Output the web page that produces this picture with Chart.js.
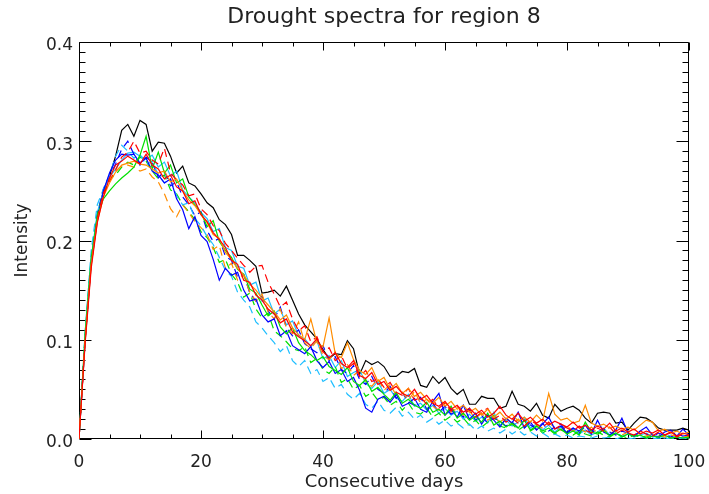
<!DOCTYPE html>
<html>
<head>
<meta charset="utf-8">
<script src="https://cdn.jsdelivr.net/npm/chart.js@4.4.1/dist/chart.umd.min.js"></script>
<style>
html,body{margin:0;padding:0;background:#fff;}
#wrap{width:709px;height:494px;}
</style>
</head>
<body>
<div id="wrap"><canvas id="c" width="709" height="494"></canvas></div>
<script>
const titleText = "Drought spectra for region 8";
const xTitle = "Consecutive days";
const yTitle = "Intensity";
const xTickValues = [0, 20, 40, 60, 80, 100];
const yTickValues = [0.0, 0.1, 0.2, 0.3, 0.4];
const days = Array.from({length: 101}, (_, i) => i);

const blackSolid = [0,.100,.180,.225,.250,.265,.285,.311,.317,.305,.321,.317,.290,.299,.298,.285,.268,.275,.258,.255,.247,.238,.233,.221,.216,.206,.185,.185,.180,.174,.147,.148,.150,.144,.154,.140,.126,.115,.108,.101,.090,.081,.086,.085,.099,.091,.065,.079,.075,.078,.073,.063,.063,.068,.067,.071,.054,.052,.063,.056,.062,.051,.045,.050,.035,.035,.043,.041,.041,.031,.033,.048,.035,.033,.028,.036,.024,.021,.035,.028,.031,.033,.029,.021,.016,.026,.027,.026,.016,.017,.009,.016,.022,.021,.017,.011,.009,.009,.009,.011,.009];

const blueSolid = [0,.098,.176,.220,.250,.268,.281,.287,.286,.287,.278,.283,.270,.266,.258,.262,.242,.231,.212,.224,.205,.199,.181,.160,.172,.165,.168,.150,.139,.141,.125,.118,.121,.104,.109,.094,.090,.086,.093,.079,.072,.078,.066,.070,.058,.062,.049,.031,.027,.040,.043,.037,.045,.033,.036,.041,.030,.027,.038,.046,.024,.030,.022,.034,.020,.026,.015,.024,.019,.012,.021,.016,.027,.011,.017,.009,.015,.022,.010,.013,.006,.011,.008,.014,.005,.019,.007,.004,.009,.021,.006,.003,.008,.012,.004,.002,.007,.009,.003,.010,.004];

const blueDashed = [0,.102,.180,.226,.252,.265,.277,.292,.300,.287,.276,
  .284,.279,.263,.270,.255,.259,.244,.236,.225,.229,
  .210,.199,.202,.184,.180,.163,.166,.147,.139,.144,
  .129,.121,.133,.112,.104,.110,.096,.091,.087,.094,
  .079,.083,.070,.066,.074,.060,.055,.063,.050,.046,
  .053,.041,.047,.037,.034,.042,.030,.036,.027,.033,
  .025,.029,.022,.031,.019,.024,.016,.021,.018,.013,
  .017,.011,.019,.014,.010,.016,.008,.012,.015,.007,
  .011,.006,.013,.009,.005,.010,.007,.004,.008,.006,
  .003,.007,.005,.002,.006,.004,.002,.005,.003,.004];

const redSolid = [0,.096,.172,.218,.244,.263,.276,.280,.285,.281,.277,.287,.276,.272,.262,.266,.254,.250,.237,.240,.226,.219,.208,.201,.193,.180,.176,.160,.158,.145,.140,.131,.126,.117,.121,.108,.103,.099,.094,.101,.088,.082,.087,.076,.072,.079,.064,.061,.067,.055,.058,.049,.053,.046,.043,.050,.040,.044,.036,.033,.038,.030,.034,.027,.031,.025,.029,.022,.026,.033,.024,.020,.026,.018,.022,.016,.020,.014,.018,.015,.012,.017,.011,.014,.009,.013,.010,.016,.008,.011,.007,.010,.005,.008,.006,.009,.004,.007,.003,.006,.004];

const redDashed = [0,.100,.176,.222,.248,.259,.271,.284,.289,.300,.288,
  .290,.281,.277,.293,.268,.261,.256,.245,.247,.232,
  .226,.215,.210,.197,.190,.182,.175,.168,.174,.175,
  .158,.146,.133,.138,.121,.109,.114,.098,.103,.088,
  .092,.079,.084,.071,.076,.063,.069,.058,.061,.052,
  .057,.047,.044,.051,.039,.042,.035,.040,.031,.036,
  .028,.033,.025,.029,.022,.027,.031,.020,.024,.017,
  .021,.016,.013,.019,.015,.012,.017,.010,.014,.011,
  .008,.013,.009,.006,.011,.008,.012,.005,.009,.006,
  .004,.008,.005,.003,.007,.004,.006,.002,.005,.003];

const greenSolid = [0,.106,.182,.224,.242,.250,.257,.263,.268,.274,.286,.305,.272,.289,.268,.276,.258,.262,.244,.236,.228,.214,.220,.199,.190,.183,.171,.166,.151,.147,.135,.124,.129,.113,.106,.112,.097,.089,.085,.079,.083,.073,.069,.065,.072,.058,.054,.060,.048,.052,.045,.039,.047,.036,.040,.034,.031,.037,.027,.030,.024,.033,.021,.026,.019,.023,.017,.026,.014,.018,.012,.016,.011,.019,.009,.013,.008,.011,.006,.010,.005,.008,.004,.017,.007,.005,.009,.003,.006,.002,.005,.003,.004,.001,.003,.002,.004,.001,.002,.001,.002];

const greenDashed = [0,.104,.184,.226,.248,.262,.266,.274,.279,.276,.284,
  .280,.270,.262,.266,.251,.247,.236,.229,.221,.209,
  .203,.193,.178,.181,.166,.158,.143,.147,.131,.122,
  .127,.109,.104,.098,.091,.089,.093,.077,.081,.070,
  .066,.073,.057,.061,.050,.054,.043,.047,.039,.042,
  .034,.038,.029,.036,.027,.025,.031,.022,.026,.019,
  .023,.017,.021,.014,.019,.012,.017,.024,.013,.011,
  .015,.009,.013,.008,.012,.006,.010,.005,.009,.007,
  .004,.008,.005,.003,.007,.004,.002,.006,.003,.001,
  .004,.002,.003,.001,.002,.003,.001,.002,.001,.001];

const orangeSolid = [0,.098,.175,.219,.244,.258,.269,.276,.278,.280,.277,.276,.272,.268,.270,.259,.262,.250,.241,.235,.226,.218,.206,.202,.188,.181,.172,.165,.156,.150,.142,.135,.128,.120,.125,.112,.105,.100,.121,.097,.093,.122,.086,.082,.097,.080,.069,.065,.072,.058,.062,.050,.056,.046,.051,.043,.047,.040,.036,.042,.033,.038,.030,.034,.027,.031,.024,.030,.022,.027,.020,.025,.018,.022,.017,.024,.018,.046,.025,.019,.021,.016,.018,.034,.016,.013,.015,.011,.013,.010,.012,.009,.014,.019,.017,.008,.010,.006,.008,.005,.007];

const orangeDashed = [0,.100,.178,.222,.246,.261,.270,.275,.276,.274,.270,
  .272,.264,.259,.247,.232,.224,.236,.228,.219,.213,
  .206,.191,.195,.172,.177,.160,.165,.148,.139,.146,
  .128,.121,.131,.112,.106,.118,.097,.091,.099,.084,
  .080,.088,.071,.075,.064,.069,.058,.053,.061,.049,
  .055,.044,.047,.039,.048,.036,.040,.033,.029,.037,
  .027,.031,.024,.028,.021,.026,.019,.023,.017,.022,
  .015,.020,.013,.018,.014,.011,.016,.012,.009,.013,
  .008,.011,.007,.012,.006,.009,.005,.008,.004,.007,
  .004,.006,.003,.005,.004,.002,.004,.003,.002,.003];

const cyanDashed = [0,.108,.190,.236,.252,.266,.285,.296,.290,.283,.287,
  .276,.280,.266,.258,.262,.245,.236,.238,.222,.215,
  .204,.196,.183,.170,.164,.148,.140,.133,.118,.112,
  .104,.097,.088,.094,.079,.073,.079,.066,.070,.058,
  .062,.051,.055,.045,.040,.046,.035,.031,.038,.029,
  .026,.032,.023,.027,.020,.024,.017,.021,.015,.019,
  .013,.016,.011,.015,.009,.013,.008,.011,.006,.010,
  .005,.009,.004,.007,.003,.006,.002,.005,.002,.004,
  .001,.003,.002,.001,.003,.001,.002,.000,.002,.001,
  .000,.002,.001,.000,.001,.000,.001,.000,.001,.000];

const cyanSolid = [0,.102,.182,.228,.250,.264,.272,.281,.288,.289,.285,
  .282,.286,.274,.279,.265,.270,.251,.244,.238,.228,
  .222,.209,.212,.193,.190,.174,.172,.155,.158,.139,
  .142,.126,.131,.115,.119,.104,.101,.093,.099,.081,
  .084,.072,.079,.063,.067,.070,.056,.051,.058,.046,
  .050,.041,.038,.045,.033,.036,.029,.034,.026,.031,
  .024,.028,.020,.025,.018,.022,.016,.027,.014,.019,
  .013,.017,.022,.011,.015,.009,.014,.007,.012,.006,
  .010,.005,.009,.004,.007,.011,.004,.006,.003,.005,
  .002,.004,.006,.002,.003,.001,.004,.002,.001,.002];

const seriesDefs = [
  {label: 'red', data: redSolid, color: '#FF0000', dash: []},
  {label: 'orange', data: orangeSolid, color: '#FF8C00', dash: []},
  {label: 'red dashed', data: redDashed, color: '#FF0000', dash: [8,5]},
  {label: 'green', data: greenSolid, color: '#00E000', dash: []},
  {label: 'blue', data: blueSolid, color: '#0000FF', dash: []},
  {label: 'cyan dashed', data: cyanDashed, color: '#1EBEFF', dash: [8,5]},
  {label: 'orange dashed', data: orangeDashed, color: '#FF8C00', dash: [8,5]},
  {label: 'green dashed', data: greenDashed, color: '#00E000', dash: [8,5]},
  {label: 'blue dashed', data: blueDashed, color: '#0000FF', dash: [8,5]},
  {label: 'cyan', data: cyanSolid, color: '#1EBEFF', dash: []},
  {label: 'black', data: blackSolid, color: '#000000', dash: []}
];

const FONT = "'DejaVu Sans', sans-serif";

const framePlugin = {
  id: 'frame',
  beforeDatasetsDraw(chart) {
    const {ctx, chartArea: a, scales: {x, y}} = chart;
    ctx.save();
    ctx.strokeStyle = '#000';
    ctx.lineWidth = 1;
    ctx.beginPath();
    const L = Math.round(a.left) + 0.5, R = Math.round(a.right) - 0.5;
    const T = Math.round(a.top) + 0.5, B = Math.round(a.bottom) - 0.5;
    ctx.rect(L, T, R - L, B - T);
    for (let v = 0; v <= 100; v += 5) {
      const px = Math.round(x.getPixelForValue(v)) + 0.5;
      const len = (v % 20 === 0) ? 8 : 4;
      ctx.moveTo(px, B); ctx.lineTo(px, B - len);
      ctx.moveTo(px, T); ctx.lineTo(px, T + len);
    }
    for (let i = 0; i <= 40; i++) {
      const py = Math.round(y.getPixelForValue(i / 100)) + 0.5;
      const len = (i % 10 === 0) ? 12 : 6;
      ctx.moveTo(L, py); ctx.lineTo(L + len, py);
      ctx.moveTo(R, py); ctx.lineTo(R - len, py);
    }
    ctx.stroke();
    ctx.restore();
  }
};

new Chart(document.getElementById('c'), {
  type: 'line',
  data: {
    labels: days,
    datasets: seriesDefs.map(s => ({
      label: s.label,
      data: s.data.map((v, i) => ({x: days[i], y: v})),
      borderColor: s.color,
      borderWidth: 1.2,
      borderDash: s.dash,
      pointRadius: 0,
      tension: 0,
      fill: false
    }))
  },
  options: {
    responsive: false,
    animation: false,
    devicePixelRatio: 1,
    layout: {padding: {left: 0, right: 20, top: 0, bottom: 0}},
    plugins: {
      legend: {display: false},
      tooltip: {enabled: false},
      title: {display: false}
    },
    scales: {
      x: {
        type: 'linear',
        min: 0, max: 100,
        afterBuildTicks(scale) { scale.ticks = xTickValues.map(v => ({value: v})); },
        afterFit(scale) { scale.height = 55; scale.paddingLeft = 0; scale.paddingRight = 0; },
        grid: {display: false, drawTicks: false},
        border: {display: false},
        ticks: {color: '#222', font: {family: FONT, size: 17}, padding: 13, maxRotation: 0, autoSkip: false,
          callback: v => String(v)},
        title: {display: true, text: xTitle, color: '#222', font: {family: FONT, size: 18, lineHeight: 1.2}, padding: {top: 0, bottom: 1}}
      },
      xTop: {
        type: 'linear',
        position: 'top',
        min: 0, max: 100,
        afterFit(scale) { scale.height = 42; scale.paddingLeft = 0; scale.paddingRight = 0; },
        grid: {display: false, drawTicks: false},
        border: {display: false},
        ticks: {display: false},
        title: {display: true, text: titleText, color: '#222', font: {family: FONT, size: 22, lineHeight: 1.2}, padding: {top: 4, bottom: 0}}
      },
      y: {
        type: 'linear',
        min: 0, max: 0.4,
        afterBuildTicks(scale) { scale.ticks = yTickValues.map(v => ({value: v})); },
        afterFit(scale) { scale.width = 79; },
        grid: {display: false, drawTicks: false},
        border: {display: false},
        ticks: {color: '#222', font: {family: FONT, size: 17}, padding: 6, labelOffset: 4, autoSkip: false,
          callback: v => Number(v).toFixed(1)},
        title: {display: true, text: yTitle, color: '#222', font: {family: FONT, size: 17, lineHeight: 1.2}, padding: {top: 12, bottom: 0}}
      }
    }
  },
  plugins: [framePlugin]
});
</script>
</body>
</html>
